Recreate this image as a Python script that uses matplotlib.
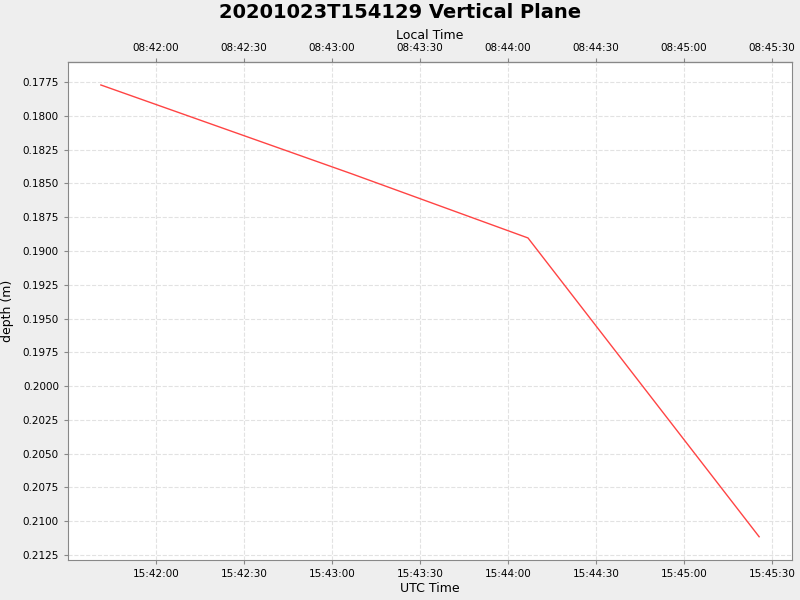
import datetime as dt
import matplotlib
matplotlib.use("Agg")
import matplotlib.pyplot as plt
import matplotlib.dates as mdates

# Data (UTC times, depth in m)
utc_times = ["15:41:41.2", "15:43:06.8", "15:44:06.8", "15:45:25.6"]
depths = [0.17772, 0.18430, 0.18904, 0.21115]
local_offset_h = -7

day = dt.date(2020, 10, 23)
t = [dt.datetime.combine(day, dt.datetime.strptime(s, "%H:%M:%S.%f").time()) for s in utc_times]
tick_times = [dt.datetime(2020, 10, 23, 15, 42, 0) + dt.timedelta(seconds=30*i) for i in range(8)]

fig = plt.figure(figsize=(8, 6), dpi=100, facecolor="#EEEEEE")
ax = fig.add_axes([68/800, 40/600, 724/800, 498/600])
ax.set_facecolor("white")
ax.plot(t, depths, color="#FF4444", linewidth=1)

ax.set_xlim(dt.datetime(2020, 10, 23, 15, 41, 30), dt.datetime(2020, 10, 23, 15, 45, 36, 800000))
ax.set_ylim(0.21287, 0.17602)
ax.set_yticks([0.1775 + 0.0025*i for i in range(15)])
ax.yaxis.set_major_formatter(matplotlib.ticker.FormatStrFormatter("%.4f"))
ax.set_xticks(mdates.date2num(tick_times))
ax.xaxis.set_major_formatter(mdates.DateFormatter("%H:%M:%S"))
ax.grid(True, color="#E2E2E2", linestyle="--", linewidth=0.8)
ax.tick_params(labelsize=7.5, length=3, color="#888888")
for s in ax.spines.values():
    s.set_color("#888888")
ax.set_xlabel("UTC Time", fontsize=9, labelpad=2)
ax.set_ylabel("depth (m)", fontsize=9, labelpad=6)

off = local_offset_h / 24
top = ax.secondary_xaxis("top", functions=(lambda x: x + off, lambda x: x - off))
top.set_xticks(mdates.date2num(tick_times) + off)
top.xaxis.set_major_formatter(mdates.DateFormatter("%H:%M:%S"))
top.tick_params(labelsize=7.5, length=3, color="#888888")
top.set_xlabel("Local Time", fontsize=9, labelpad=3)

fig.text(0.5, 0.995, "20201023T154129 Vertical Plane", ha="center", va="top",
         fontsize=14, fontweight="bold")

fig.savefig("out.png", dpi=100, facecolor=fig.get_facecolor())
